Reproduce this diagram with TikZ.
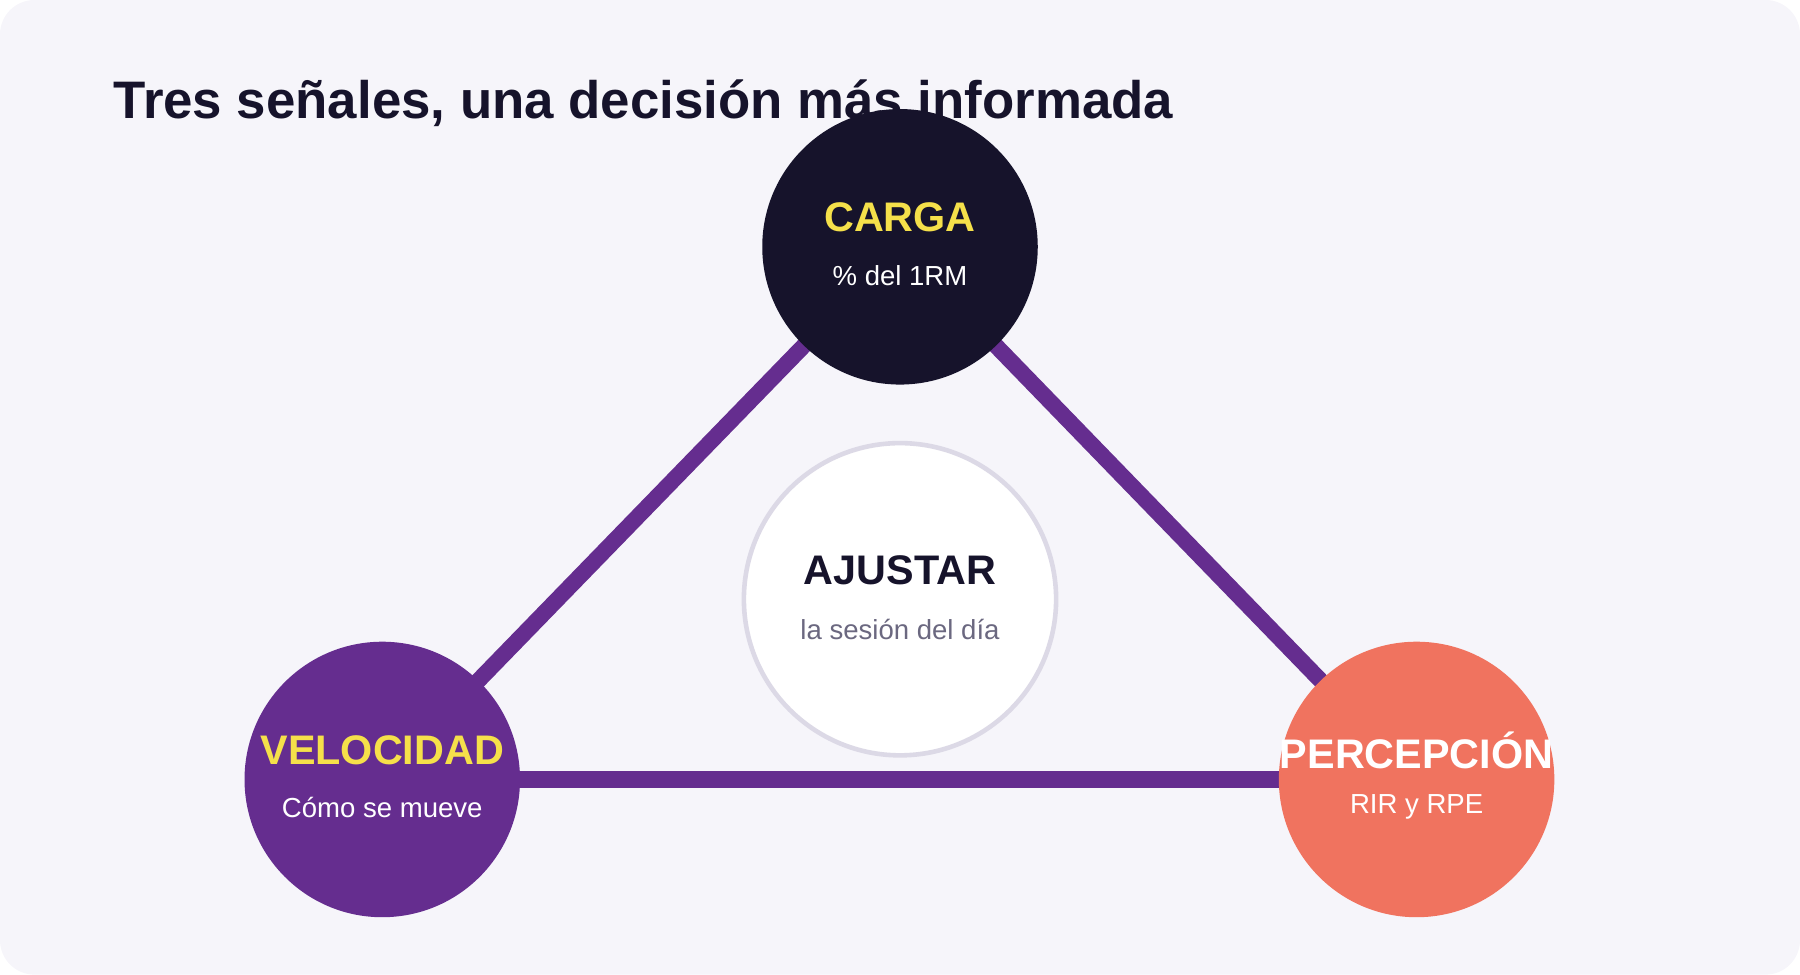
\documentclass[tikz,border=0pt]{standalone}
\usepackage{fontspec}
\setmainfont{Liberation Sans}
\usetikzlibrary{positioning}
\definecolor{ink}{HTML}{16132B}
\definecolor{violet}{HTML}{652D8F}
\definecolor{coral}{HTML}{F0735F}
\definecolor{gold}{HTML}{F5E04A}
\definecolor{paper}{HTML}{F6F5FA}
\definecolor{ring}{HTML}{DCD9E6}
\definecolor{muted}{HTML}{6B6880}
\begin{document}
\begin{tikzpicture}[x=0.5pt, y=-0.5pt,
    signal/.style={circle, minimum size=120pt, inner sep=0pt},
    head/.style={font=\fontsize{18}{20}\selectfont\bfseries},
    sub/.style={font=\fontsize{12}{14}\selectfont, text=white},
    link/.style={violet, line width=7pt}]
    \fill[paper, rounded corners=15pt] (0,0) rectangle (1568,849);
    \useasboundingbox (0,0) rectangle (1568,849);
    \node[anchor=base west, text=ink, font=\fontsize{23}{26}\selectfont\bfseries]
        (title) at (92,103) {Tres señales, una decisión más informada};
    \node[signal] (C) at (784,215) {};
    \node[signal] (V) at (333,679) {};
    \node[signal] (P) at (1234,679) {};
    \draw[link] (C.center) -- (V.center);
    \draw[link] (C.center) -- (P.center);
    \draw[link] (V.center) -- (P.center);
    \node[signal, fill=ink] at (C) {};
    \node[signal, fill=violet] at (V) {};
    \node[signal, fill=coral] at (P) {};
    \node[circle, fill=white, draw=ring, line width=2pt, minimum size=136pt]
        (A) at (784,522) {};
    \node[head, text=gold] (Ct) at (784,189) {CARGA};
    \node[sub] (Cs) at (784,240) {\% del 1RM};
    \node[head, text=gold] (Vt) at (333,654) {VELOCIDAD};
    \node[sub] (Vs) at (333,703) {Cómo se mueve};
    \node[head, text=white] (Pt) at (1234,654) {PERCEPCIÓN};
    \node[sub] (Ps) at (1234,703) {RIR y RPE};
    \node[head, text=ink] (At) at (784,497) {AJUSTAR};
    \node[sub, text=muted] (As) at (784,548) {la sesión del día};
\end{tikzpicture}
\end{document}
